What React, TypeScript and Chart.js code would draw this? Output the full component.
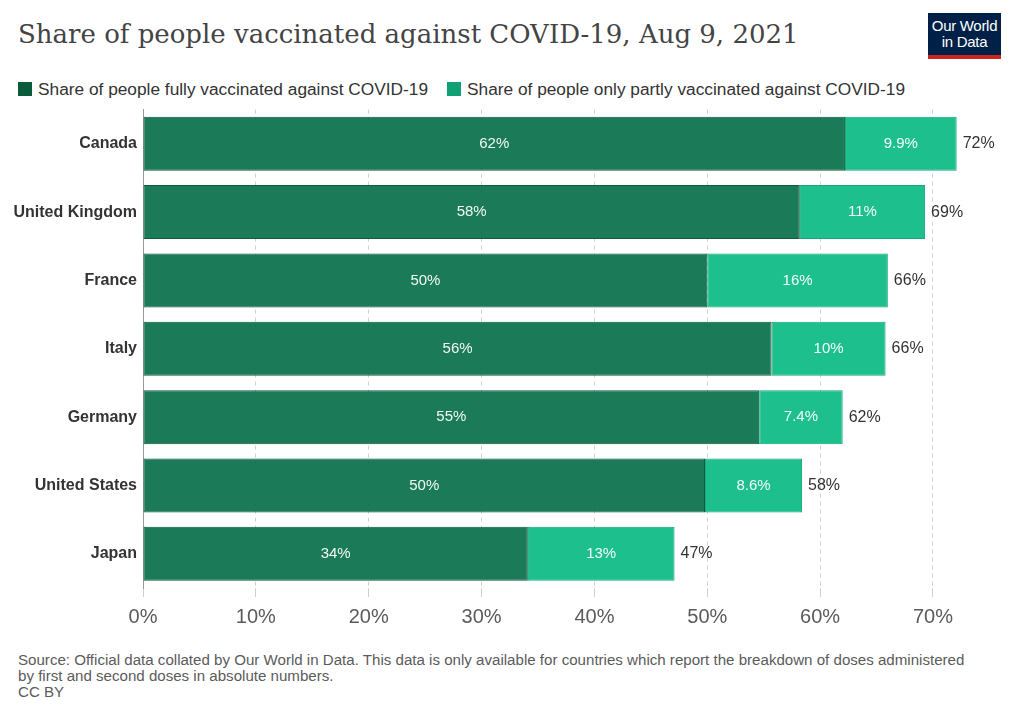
import React, {useEffect, useRef} from 'react';
import {Chart, registerables} from 'chart.js';

Chart.register(...registerables);

const countries = ['Canada', 'United Kingdom', 'France', 'Italy', 'Germany', 'United States', 'Japan'];
const fullyVaccinated = [62.2, 58.2, 50.0, 55.7, 54.6, 49.8, 34.1];
const partlyVaccinated = [9.9, 11.1, 16.0, 10.1, 7.4, 8.6, 13.0];
const xTicks = [0, 10, 20, 30, 40, 50, 60, 70];

const colors = {
    full: 'rgba(10,112,74,0.93)',
    fullBorder: '#0f5c40',
    fullLegend: '#0b5a3c',
    partly: 'rgba(12,186,132,0.93)',
    partlyBorder: '#16a87a',
    partlyLegend: '#0fa073',
    text: '#333333',
    muted: '#5b5b5b',
    grid: '#d0d0d0',
};

const fmt = (v: number) => (v < 10 ? v.toFixed(1) : Math.round(v).toString()) + '%';

const labelPlugin = {
    id: 'barLabels',
    afterDatasetsDraw(chart: any) {
        const ctx = chart.ctx;
        ctx.save();
        ctx.textBaseline = 'middle';
        chart.data.datasets.forEach((ds: any, di: number) => {
            const meta = chart.getDatasetMeta(di);
            meta.data.forEach((bar: any, i: number) => {
                ctx.font = '15px "Liberation Sans", Arial, sans-serif';
                ctx.fillStyle = 'rgba(255,255,255,0.95)';
                ctx.textAlign = 'center';
                ctx.fillText(fmt(ds.data[i]), (bar.base + bar.x) / 2, bar.y);
            });
        });
        const lastMeta = chart.getDatasetMeta(chart.data.datasets.length - 1);
        lastMeta.data.forEach((bar: any, i: number) => {
            const total = fullyVaccinated[i] + partlyVaccinated[i];
            ctx.font = '16px "Liberation Sans", Arial, sans-serif';
            ctx.fillStyle = colors.text;
            ctx.textAlign = 'left';
            ctx.fillText(fmt(total), bar.x + 6, bar.y);
        });
        ctx.restore();
    },
};

const VaccinationChart: React.FC = () => {
    const canvasRef = useRef<HTMLCanvasElement>(null);
    const chartRef = useRef<Chart<any> | null>(null);

    useEffect(() => {
        if (!canvasRef.current) return;
        const ctx = canvasRef.current.getContext('2d');
        if (!ctx) return;
        if (chartRef.current) chartRef.current.destroy();

        chartRef.current = new Chart(ctx, {
            type: 'bar',
            data: {
                labels: countries,
                datasets: [{
                    label: 'Share of people fully vaccinated against COVID-19',
                    data: fullyVaccinated,
                    backgroundColor: colors.full,
                    borderColor: colors.fullBorder,
                    borderWidth: 1,
                    borderSkipped: false,
                    barPercentage: 0.79,
                    categoryPercentage: 1,
                }, {
                    label: 'Share of people only partly vaccinated against COVID-19',
                    data: partlyVaccinated,
                    backgroundColor: colors.partly,
                    borderColor: colors.partlyBorder,
                    borderWidth: 1,
                    borderSkipped: false,
                    barPercentage: 0.79,
                    categoryPercentage: 1,
                }],
            },
            options: {
                indexAxis: 'y',
                animation: false,
                responsive: false,
                maintainAspectRatio: false,
                layout: {
                    autoPadding: false,
                    padding: {top: 8.75, right: 19.3, left: 0, bottom: 0},
                },
                scales: {
                    x: {
                        stacked: true,
                        min: 0,
                        max: 76,
                        afterBuildTicks: (scale: any) => {
                            scale.ticks = xTicks.map(v => ({value: v}));
                        },
                        afterFit: (scale: any) => {
                            scale.height = 52;
                        },
                        grid: {
                            color: colors.grid,
                            drawTicks: true,
                            tickLength: 9,
                            tickColor: colors.grid,
                        },
                        border: {
                            display: false,
                            dash: [4, 4],
                        },
                        ticks: {
                            color: colors.muted,
                            padding: 8,
                            font: {family: '"Liberation Sans", Arial, sans-serif', size: 20},
                            callback: (value: number | string) => value + '%',
                        },
                    },
                    y: {
                        stacked: true,
                        afterFit: (scale: any) => {
                            scale.width = 143;
                        },
                        grid: {
                            display: false,
                            drawTicks: false,
                        },
                        border: {
                            display: true,
                            color: '#9a9a9a',
                            width: 1,
                        },
                        ticks: {
                            color: colors.text,
                            padding: 6,
                            font: {family: '"Liberation Sans", Arial, sans-serif', size: 16, weight: 'bold'},
                        },
                    },
                },
                plugins: {
                    legend: {display: false},
                    tooltip: {enabled: false},
                },
            },
            plugins: [labelPlugin],
        });

        return () => {
            if (chartRef.current) {
                chartRef.current.destroy();
                chartRef.current = null;
            }
        };
    }, []);

    return (
        <canvas ref={canvasRef} width={1020} height={546}
                style={{position: 'absolute', left: 0, top: 94, width: 1020, height: 546}}></canvas>
    );
};

const sans = '"Liberation Sans", Arial, sans-serif';

export default function App() {
    return (
        <div style={{position: 'fixed', left: 0, top: 0, width: 1020, height: 720, background: '#fff', overflow: 'hidden'}}>
            <div style={{
                position: 'absolute', left: 18, top: 16, fontFamily: '"DejaVu Serif", Georgia, serif',
                fontSize: 26, lineHeight: '36px', color: '#444', whiteSpace: 'nowrap',
            }}>
                Share of people vaccinated against COVID-19, Aug 9, 2021
            </div>
            <div style={{
                position: 'absolute', left: 928, top: 13, width: 73, height: 46, background: '#002147',
                borderBottom: '4px solid #ce261e', boxSizing: 'border-box', color: '#fff', fontFamily: sans,
                fontSize: 15, lineHeight: '16px', textAlign: 'center', paddingTop: 5, letterSpacing: -0.3,
            }}>
                Our World<br/>in Data
            </div>
            <div style={{
                position: 'absolute', left: 18, top: 79, display: 'flex', alignItems: 'center',
                fontFamily: sans, fontSize: 17.3, lineHeight: '20px', color: colors.text, whiteSpace: 'nowrap',
            }}>
                <span style={{display: 'inline-block', width: 14, height: 14, background: colors.fullLegend, marginRight: 6}}></span>
                <span style={{marginRight: 19}}>Share of people fully vaccinated against COVID-19</span>
                <span style={{display: 'inline-block', width: 14, height: 14, background: colors.partlyLegend, marginRight: 6}}></span>
                <span>Share of people only partly vaccinated against COVID-19</span>
            </div>
            <VaccinationChart/>
            <div style={{
                position: 'absolute', left: 18, top: 652, fontFamily: sans, fontSize: 15.1, lineHeight: '16px',
                color: colors.muted, width: 1000, whiteSpace: 'nowrap',
            }}>
                Source: Official data collated by Our World in Data. This data is only available for countries which report the breakdown of doses administered<br/>
                by first and second doses in absolute numbers.<br/>
                CC BY
            </div>
        </div>
    );
}
